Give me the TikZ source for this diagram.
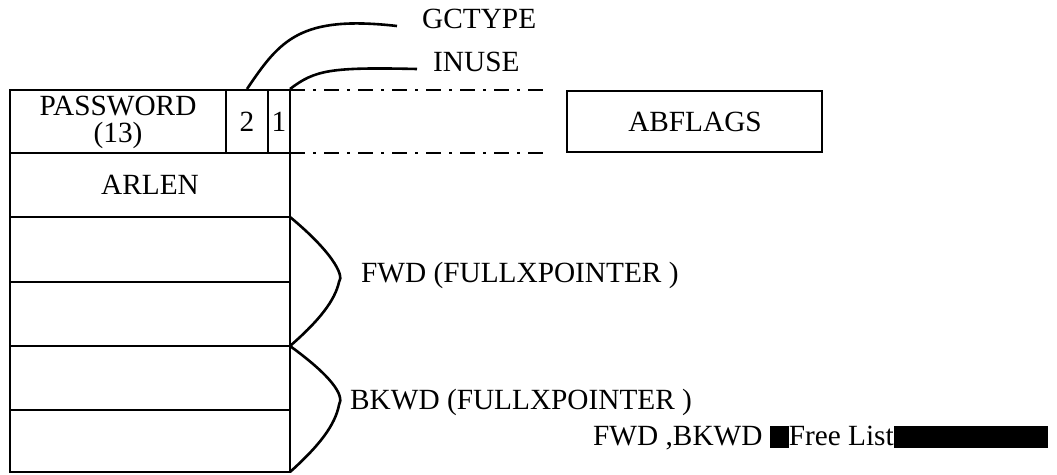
\documentclass[tikz,border=0pt]{standalone}
\usepackage{fontspec}
\setmainfont{Liberation Serif}
\begin{document}
\begin{tikzpicture}[x=1pt,y=-1pt,
  every node/.style={font=\fontsize{29.3}{26}\selectfont, inner sep=0pt},
  ln/.style={line width=2.6pt, black},
  dd/.style={line width=2.2pt, dash pattern=on 15pt off 8pt on 3pt off 8pt}]
\useasboundingbox (0,0) rectangle (1057,474);
% cells
\draw[ln] (10,90) rectangle (226,153);
\draw[ln] (226,90) rectangle (268,153);
\draw[ln] (268,90) rectangle (290,153);
\draw[ln] (10,153) rectangle (290,217);
\draw[ln] (10,217) rectangle (290,282);
\draw[ln] (10,282) rectangle (290,346);
\draw[ln] (10,346) rectangle (290,410);
\draw[ln] (10,410) rectangle (290,472);
\draw[ln] (567,91) rectangle (822,152);
\node[align=center, font=\fontsize{29.3}{27}\selectfont] (pw) at (118,122) {PASSWORD\\(13)};
\node (gc) at (247,122) {2};
\node (iu) at (279,122) {1};
\node (ar) at (150,185) {ARLEN};
\node (ab) at (695,122) {ABFLAGS};
% coordinates
\coordinate (gcs) at (247,89);
\coordinate (gce) at (397,26);
\coordinate (ius) at (290,89);
\coordinate (iue) at (417,69);
\coordinate (f1) at (290,217);
\coordinate (f2) at (290,346);
\coordinate (b2) at (290,472);
\coordinate (t1) at (290,90);
\coordinate (t2) at (545,90);
\coordinate (u1) at (290,153);
\coordinate (u2) at (545,153);
% dash-dot
\draw[dd] (t1) -- (t2);
\draw[dd] (u1) -- (u2);
% leaders
\draw[ln] (gcs) .. controls (280,40) and (300,15) .. (gce);
\draw[ln] (ius) .. controls (315,70) and (330,67) .. (iue);
\node[anchor=west] (gct) at (422,19) {GCTYPE};
\node[anchor=west] (iut) at (433,62) {INUSE};
% braces
\draw[ln] (f1) .. controls (330,250) and (345,275) .. (339,282) .. controls (335,300) and (320,320) .. (f2);
\draw[ln] (f2) .. controls (330,375) and (345,395) .. (339,405) .. controls (335,425) and (320,445) .. (b2);
\node[anchor=west] (fwd) at (361,275) {FWD (FULLXPOINTER )};
\node[anchor=west] (bkwd) at (350,402) {BKWD (FULLXPOINTER )};
\node[anchor=west] (fl) at (593,438) {FWD ,BKWD \rule[-2pt]{19pt}{22pt}Free List\rule[-2pt]{154pt}{22pt}};
\end{tikzpicture}
\end{document}
